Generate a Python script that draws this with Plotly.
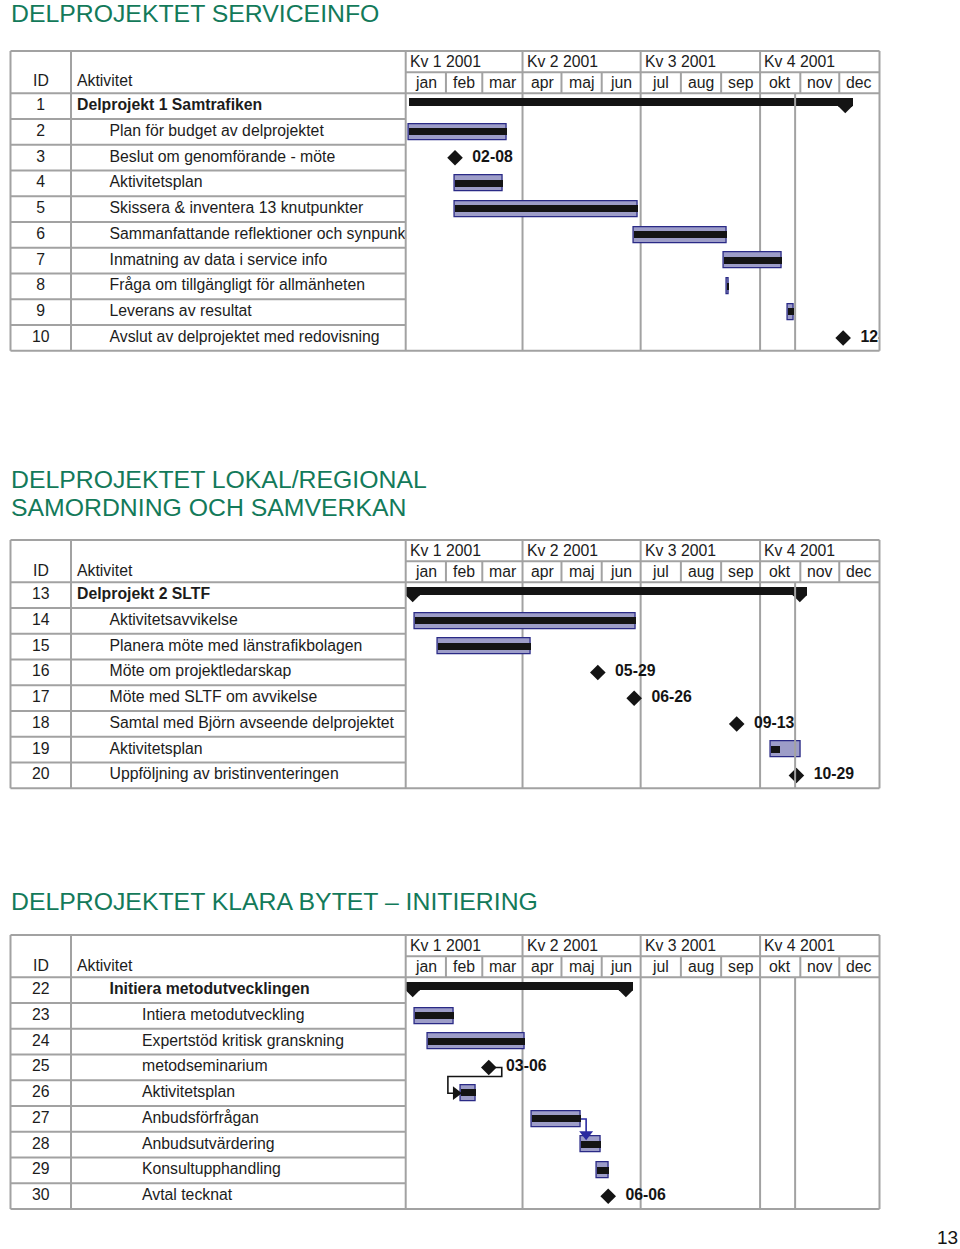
import plotly.graph_objects as go
import pandas as pd

# ---------------- data ----------------
QUARTERS = ["Kv 1 2001", "Kv 2 2001", "Kv 3 2001", "Kv 4 2001"]
QUARTER_STARTS = ["2001-01-01", "2001-04-01", "2001-07-01", "2001-10-01"]
MONTHS = ["jan", "feb", "mar", "apr", "maj", "jun", "jul", "aug", "sep", "okt", "nov", "dec"]
YEAR_START = "2001-01-01"
YEAR_END = "2002-01-01"
STATUS_DATE = "2001-10-28"
PAGE_NUMBER = "13"

S1_TITLE = ["DELPROJEKTET SERVICEINFO"]
S1_IDS = [1, 2, 3, 4, 5, 6, 7, 8, 9, 10]
S1_NAMES = ["Delprojekt 1 Samtrafiken", "Plan för budget av delprojektet",
            "Beslut om genomförande - möte", "Aktivitetsplan",
            "Skissera & inventera 13 knutpunkter",
            "Sammanfattande reflektioner och synpunkter",
            "Inmatning av data i service info", "Fråga om tillgängligt för allmänheten",
            "Leverans av resultat", "Avslut av delprojektet med redovisning"]
S1_LEVELS = [0, 1, 1, 1, 1, 1, 1, 1, 1, 1]
S1_TYPES = ["summary", "task", "milestone", "task", "task", "task", "task", "task", "task", "milestone"]
S1_START = ["2001-01-03", "2001-01-03", "2001-02-08", "2001-02-08", "2001-02-08",
            "2001-06-26", "2001-09-03", "2001-09-05", "2001-10-22", "2001-12-04"]
S1_END = ["2001-12-11", "2001-03-20", None, "2001-03-17", "2001-06-29",
          "2001-09-05", "2001-10-18", "2001-09-07", "2001-10-27", None]
S1_PROGRESS = [1, 1, None, 1, 1, 1, 1, 1, 1, None]
S1_LINKS = []

S2_TITLE = ["DELPROJEKTET LOKAL/REGIONAL", "SAMORDNING OCH SAMVERKAN"]
S2_IDS = [13, 14, 15, 16, 17, 18, 19, 20]
S2_NAMES = ["Delprojekt 2 SLTF", "Aktivitetsavvikelse", "Planera möte med länstrafikbolagen",
            "Möte om projektledarskap", "Möte med SLTF om avvikelse",
            "Samtal med Björn avseende delprojektet", "Aktivitetsplan",
            "Uppföljning av bristinventeringen"]
S2_LEVELS = [0, 1, 1, 1, 1, 1, 1, 1]
S2_TYPES = ["summary", "task", "task", "milestone", "milestone", "milestone", "task", "milestone"]
S2_START = ["2001-01-01", "2001-01-08", "2001-01-26", "2001-05-29", "2001-06-26",
            "2001-09-13", "2001-10-09", "2001-10-29"]
S2_END = ["2001-11-06", "2001-06-27", "2001-04-07", None, None, None, "2001-11-01", None]
S2_PROGRESS = [1, 1, 1, None, None, None, 0.3, None]
S2_LINKS = []

S3_TITLE = ["DELPROJEKTET KLARA BYTET \u2013 INITIERING"]
S3_IDS = [22, 23, 24, 25, 26, 27, 28, 29, 30]
S3_NAMES = ["Initiera metodutvecklingen", "Intiera metodutveckling",
            "Expertstöd kritisk granskning", "metodseminarium", "Aktivitetsplan",
            "Anbudsförfrågan", "Anbudsutvärdering", "Konsultupphandling", "Avtal tecknat"]
S3_LEVELS = [1, 2, 2, 2, 2, 2, 2, 2, 2]
S3_TYPES = ["summary", "task", "task", "milestone", "task", "task", "task", "task", "milestone"]
S3_START = ["2001-01-01", "2001-01-08", "2001-01-18", "2001-03-06", "2001-02-12",
            "2001-04-08", "2001-05-16", "2001-05-28", "2001-06-06"]
S3_END = ["2001-06-25", "2001-02-07", "2001-04-03", None, "2001-02-24",
          "2001-05-16", "2001-05-31", "2001-06-06", None]
S3_PROGRESS = [1, 1, 1, None, 1, 1, 1, 1, None]
S3_LINKS = [(25, 26), (27, 28)]

SECTIONS = [
    dict(title=S1_TITLE, ids=S1_IDS, names=S1_NAMES, levels=S1_LEVELS, types=S1_TYPES,
         start=S1_START, end=S1_END, progress=S1_PROGRESS, links=S1_LINKS),
    dict(title=S2_TITLE, ids=S2_IDS, names=S2_NAMES, levels=S2_LEVELS, types=S2_TYPES,
         start=S2_START, end=S2_END, progress=S2_PROGRESS, links=S2_LINKS),
    dict(title=S3_TITLE, ids=S3_IDS, names=S3_NAMES, levels=S3_LEVELS, types=S3_TYPES,
         start=S3_START, end=S3_END, progress=S3_PROGRESS, links=S3_LINKS),
]

# ---------------- styles / positions ----------------
W, H = 960, 1249
FONT = "Liberation Sans, Arial, sans-serif"
TXT = "#1c1c1c"
GRID = "#a2a2a2"
TITLE_COLOR = "#137a5a"
BAR_FILL = "#9d9dc8"
BAR_EDGE = "#2a2a86"
BLACK = "#141414"
LINK_COLORS = ["#141414", "#2a2aa0"]

STYLES = [
    dict(title_y=[14], top=51, tips=("end",)),
    dict(title_y=[479, 507], top=540, tips=("start", "end")),
    dict(title_y=[901], top=935, tips=("start", "end")),
]
X_LEFT, X_ID, X_GANTT, X_RIGHT = 10.5, 71, 405.7, 879.5
ROW_H, HDR_H, HDR_MID = 25.75, 42.3, 21.3
FS = 15.8
TITLE_FS = 24.8


def px(p):
    return p / W


def py(p):
    return 1 - p / H


def ms(a, b):
    return (pd.Timestamp(b) - pd.Timestamp(a)).total_seconds() * 1000.0


def shift(d, days):
    return (pd.Timestamp(d) + pd.Timedelta(days=days)).strftime("%Y-%m-%d %H:%M")


fig = go.Figure()
layout = {}
shapes = []
annotations = []

month_starts = pd.date_range(YEAR_START, periods=13, freq="MS")

for k, (sec, st) in enumerate(zip(SECTIONS, STYLES)):
    n = len(sec["ids"])
    ti, gi, yi = 2 * k + 1, 2 * k + 2, k + 1
    xt = "x" if ti == 1 else f"x{ti}"
    xg = f"x{gi}"
    yy = "y" if yi == 1 else f"y{yi}"
    top = st["top"]
    rtop = top + HDR_H
    rbot = rtop + n * ROW_H

    layout["xaxis" + ("" if ti == 1 else str(ti))] = dict(
        domain=[px(X_LEFT), px(X_GANTT)], range=[0, X_GANTT - X_LEFT],
        visible=False, fixedrange=True, anchor=yy)
    layout[f"xaxis{gi}"] = dict(
        domain=[px(X_GANTT), px(X_RIGHT)], type="date", range=[YEAR_START, YEAR_END],
        visible=False, fixedrange=True, anchor=yy)
    layout["yaxis" + ("" if yi == 1 else str(yi))] = dict(
        domain=[py(rbot), py(rtop)], range=[n - 0.5, -0.5],
        visible=False, fixedrange=True, anchor=xt)

    rows = list(range(n))

    # ---- table text ----
    fig.add_trace(go.Scatter(
        x=[(X_LEFT + X_ID) / 2 - X_LEFT] * n, y=rows, mode="text",
        text=[str(i) for i in sec["ids"]], textposition="middle center",
        textfont=dict(family=FONT, size=FS, color=TXT), xaxis=xt, yaxis=yy,
        hoverinfo="skip", showlegend=False, cliponaxis=True))
    fig.add_trace(go.Scatter(
        x=[77 + 32.5 * lv - X_LEFT for lv in sec["levels"]], y=rows, mode="text",
        text=[f"<b>{nm}</b>" if t == "summary" else nm
              for nm, t in zip(sec["names"], sec["types"])],
        textposition="middle right",
        textfont=dict(family=FONT, size=FS, color=TXT), xaxis=xt, yaxis=yy,
        hoverinfo="skip", showlegend=False, cliponaxis=True))

    # ---- links ----
    for li, (a, b) in enumerate(sec["links"]):
        ra, rb = sec["ids"].index(a), sec["ids"].index(b)
        pa = sec["end"][ra] or sec["start"][ra]
        sb = sec["start"][rb]
        col = LINK_COLORS[li % len(LINK_COLORS)]
        if pd.Timestamp(sb) >= pd.Timestamp(pa):
            xs = [pa, shift(pa, 4), shift(pa, 4)]
            ys = [ra, ra, rb - 0.45]
            ax_, ay_, sym = shift(pa, 4), rb - 0.40, "triangle-down"
        else:
            xs = [pa, shift(pa, 10), shift(pa, 10), shift(sb, -9.5), shift(sb, -9.5), shift(sb, -3)]
            ys = [ra, ra, ra + 0.35, ra + 0.35, rb, rb]
            ax_, ay_, sym = shift(sb, -3.3), rb, "triangle-right"
        fig.add_trace(go.Scatter(x=xs, y=ys, mode="lines", line=dict(color=col, width=1.6),
                                 xaxis=xg, yaxis=yy, hoverinfo="skip", showlegend=False))
        fig.add_trace(go.Scatter(x=[ax_], y=[ay_], mode="markers",
                                 marker=dict(symbol=sym, size=12, color=col),
                                 xaxis=xg, yaxis=yy, hoverinfo="skip", showlegend=False))

    # ---- task bars ----
    tr = [i for i, t in enumerate(sec["types"]) if t == "task"]
    fig.add_trace(go.Bar(
        orientation="h", y=tr, base=[sec["start"][i] for i in tr],
        x=[ms(sec["start"][i], sec["end"][i]) for i in tr], width=0.62,
        marker=dict(color=BAR_FILL, line=dict(color=BAR_EDGE, width=1.3)),
        xaxis=xg, yaxis=yy, hoverinfo="skip", showlegend=False))
    fig.add_trace(go.Bar(
        orientation="h", y=tr, base=[sec["start"][i] for i in tr],
        x=[ms(sec["start"][i], sec["end"][i]) * sec["progress"][i] for i in tr], width=0.27,
        marker=dict(color=BLACK, line=dict(width=0)),
        xaxis=xg, yaxis=yy, hoverinfo="skip", showlegend=False))

    # ---- summary bars ----
    sr = [i for i, t in enumerate(sec["types"]) if t == "summary"]
    fig.add_trace(go.Bar(
        orientation="h", y=sr, base=[sec["start"][i] for i in sr],
        x=[ms(sec["start"][i], sec["end"][i]) for i in sr], width=0.31, offset=-0.31,
        marker=dict(color=BLACK, line=dict(width=0)),
        xaxis=xg, yaxis=yy, hoverinfo="skip", showlegend=False))
    for i in sr:
        for tip in st["tips"]:
            if tip == "end":
                anchor, path = sec["end"][i], "M-14,8 L0,8 L0,0 L-7,-7 L-14,0 Z"
            else:
                anchor, path = sec["start"][i], "M0,8 L14,8 L14,0 L7,-7 L0,0 Z"
            shapes.append(dict(type="path", xref=xg, yref=yy, xsizemode="pixel",
                               ysizemode="pixel", xanchor=anchor, yanchor=i, path=path,
                               fillcolor=BLACK, line=dict(width=0), layer="above"))

    # ---- milestones ----
    mr = [i for i, t in enumerate(sec["types"]) if t == "milestone"]
    fig.add_trace(go.Scatter(
        x=[sec["start"][i] for i in mr], y=mr, mode="markers+text",
        marker=dict(symbol="diamond", size=12, color=BLACK),
        text=["<b>\u00a0\u00a0" + pd.Timestamp(sec["start"][i]).strftime("%m-%d") + "</b>"
              for i in mr],
        textposition="middle right",
        textfont=dict(family=FONT, size=FS, color=BLACK),
        xaxis=xg, yaxis=yy, hoverinfo="skip", showlegend=False, cliponaxis=True))

    # ---- titles ----
    for line, ty in zip(sec["title"], st["title_y"]):
        annotations.append(dict(text=line, x=px(9), y=py(ty), xref="paper", yref="paper",
                                xanchor="left", yanchor="middle", showarrow=False,
                                font=dict(family=FONT, size=TITLE_FS, color=TITLE_COLOR)))

    # ---- table header text ----
    annotations.append(dict(text="ID", x=px((X_LEFT + X_ID) / 2), y=py(top + 30),
                            xref="paper", yref="paper", xanchor="center", yanchor="middle",
                            showarrow=False, font=dict(family=FONT, size=FS, color=TXT)))
    annotations.append(dict(text="Aktivitet", x=px(75), y=py(top + 30),
                            xref="paper", yref="paper", xanchor="left", yanchor="middle",
                            showarrow=False, font=dict(family=FONT, size=FS, color=TXT)))
    for q, qs in zip(QUARTERS, QUARTER_STARTS):
        annotations.append(dict(text=q, x=qs, y=py(top + HDR_MID / 2), xref=xg, yref="paper",
                                xanchor="left", yanchor="middle", xshift=2, showarrow=False,
                                font=dict(family=FONT, size=FS, color=TXT)))
    for m, a, b in zip(MONTHS, month_starts[:-1], month_starts[1:]):
        mid = a + (b - a) / 2
        annotations.append(dict(text=m, x=mid.strftime("%Y-%m-%d %H:%M"),
                                y=py(top + HDR_MID + (HDR_H - HDR_MID) / 2),
                                xref=xg, yref="paper", xanchor="center", yanchor="middle",
                                showarrow=False, font=dict(family=FONT, size=FS, color=TXT)))

    # ---- grid lines ----
    gl = dict(color=GRID, width=2)
    for yv in (top, rtop, rbot):
        shapes.append(dict(type="line", xref="paper", yref="paper", x0=px(X_LEFT), x1=px(X_RIGHT),
                           y0=py(yv), y1=py(yv), line=gl, layer="above"))
    shapes.append(dict(type="line", xref="paper", yref="paper", x0=px(X_GANTT), x1=px(X_RIGHT),
                       y0=py(top + HDR_MID), y1=py(top + HDR_MID), line=gl, layer="above"))
    for xv in (X_LEFT, X_ID, X_GANTT, X_RIGHT):
        shapes.append(dict(type="line", xref="paper", yref="paper", x0=px(xv), x1=px(xv),
                           y0=py(top), y1=py(rbot), line=gl, layer="above"))
    for r in range(n - 1):
        shapes.append(dict(type="line", xref="x domain" if xt == "x" else f"{xt} domain",
                           yref=yy, x0=0, x1=1, y0=r + 0.5, y1=r + 0.5, line=gl, layer="above"))
    for qs in QUARTER_STARTS[1:]:
        shapes.append(dict(type="line", xref=xg, yref="paper", x0=qs, x1=qs,
                           y0=py(top), y1=py(rbot), line=gl, layer="below"))
    for mstart in month_starts[1:-1]:
        if mstart.strftime("%Y-%m-%d") in QUARTER_STARTS:
            continue
        d = mstart.strftime("%Y-%m-%d")
        shapes.append(dict(type="line", xref=xg, yref="paper", x0=d, x1=d,
                           y0=py(top + HDR_MID), y1=py(rtop), line=gl, layer="below"))
    shapes.append(dict(type="line", xref=xg, yref="paper", x0=STATUS_DATE, x1=STATUS_DATE,
                       y0=py(rtop), y1=py(rbot), line=gl, layer="above"))

annotations.append(dict(text=PAGE_NUMBER, x=px(947), y=py(1237), xref="paper", yref="paper",
                        xanchor="center", yanchor="middle", showarrow=False,
                        font=dict(family=FONT, size=19, color=BLACK)))

fig.update_layout(
    width=W, height=H, margin=dict(l=0, r=0, t=0, b=0),
    paper_bgcolor="white", plot_bgcolor="rgba(0,0,0,0)",
    barmode="overlay", bargap=0, showlegend=False,
    shapes=shapes, annotations=annotations, **layout)

fig.write_html("out.html", config={"displayModeBar": False},
               post_script="document.body.style.margin='0px';"
                           "document.body.style.overflow='hidden';")
